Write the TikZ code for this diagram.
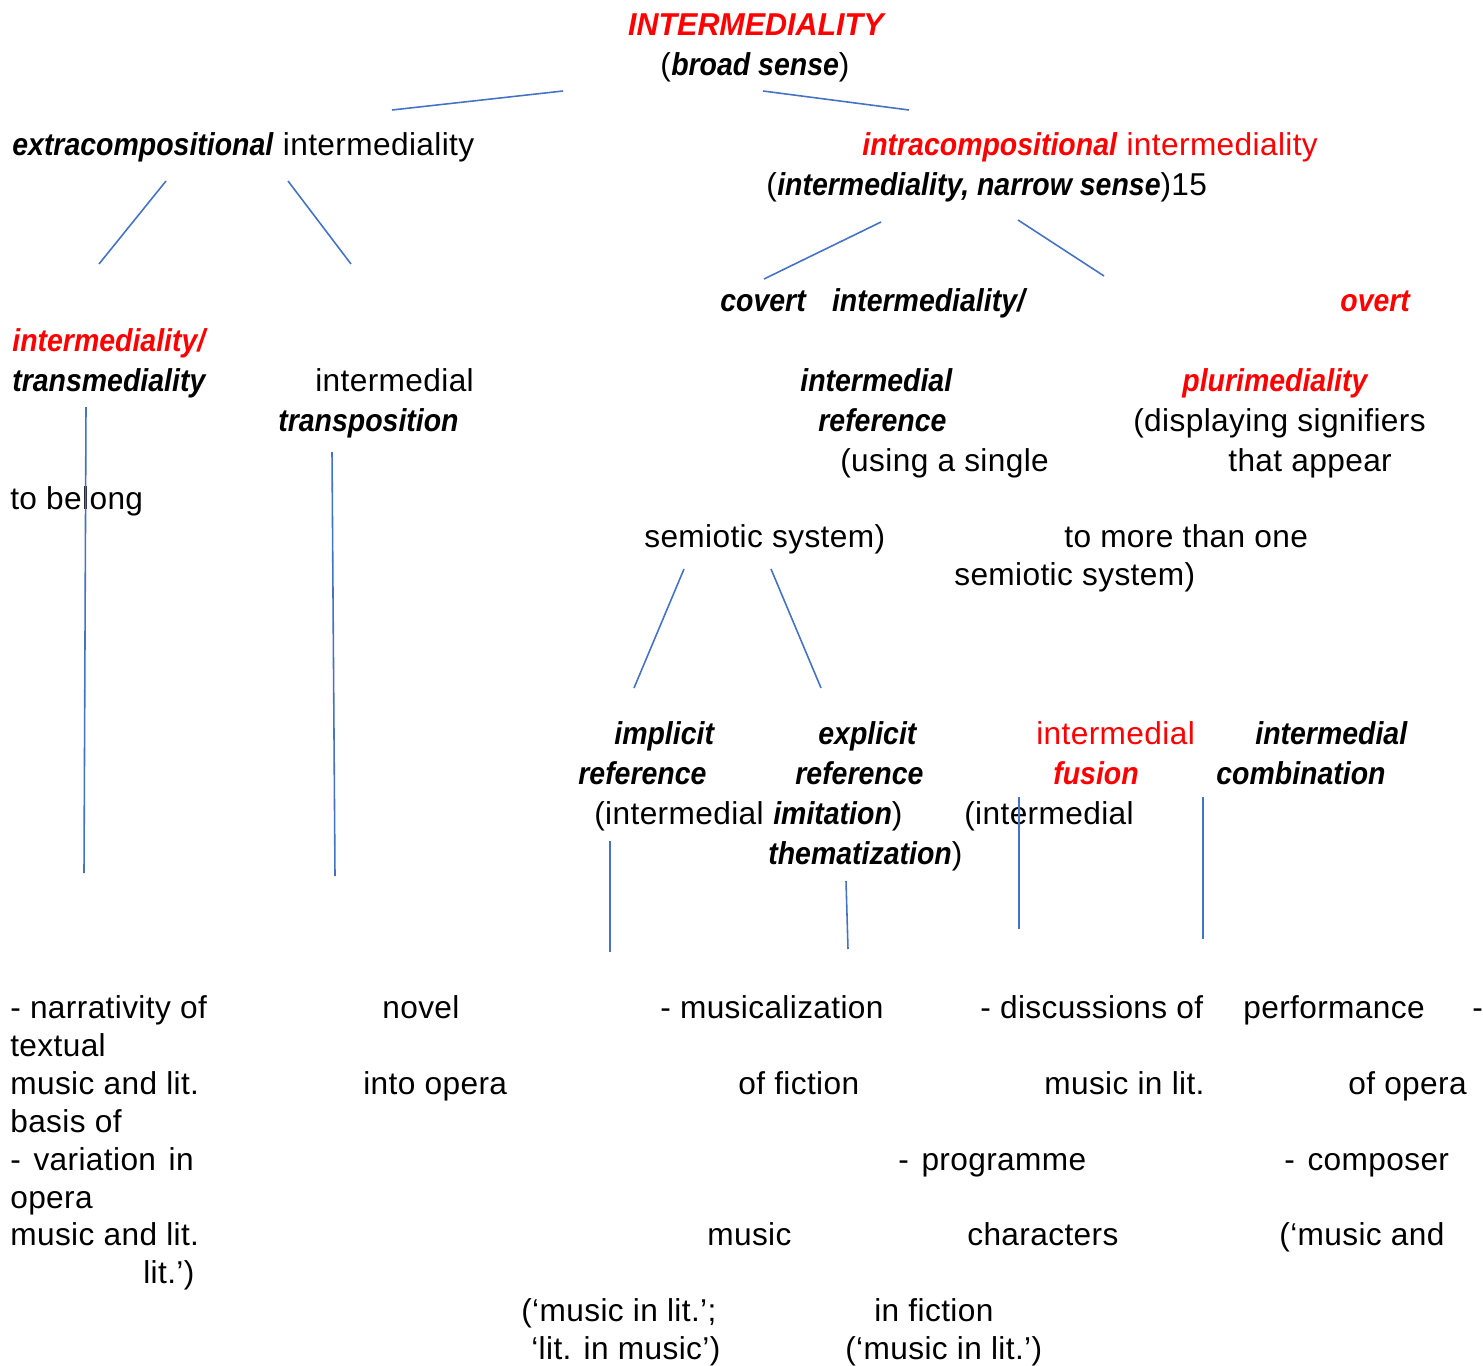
\documentclass[tikz,border=0pt]{standalone}
\usepackage{fontspec}
\setmainfont{Liberation Sans}[UprightFeatures = {LetterSpace = 1.2},
  BoldItalicFeatures = {FakeStretch = 0.9}]
\definecolor{lineblue}{RGB}{68,114,196}
\definecolor{hotred}{RGB}{255,0,0}
\newcommand{\embi}[1]{\textbf{\textit{#1}}}

\begin{document}
\begin{tikzpicture}[x = .02cm, y = -.02cm,
    lbl/.style = {anchor = base west, inner sep = 0pt},
    rd/.style = {lbl, text = hotred},
    lnk/.style = {lineblue, line width = .9pt},
    font = \fontsize{18}{22}\selectfont]
    \useasboundingbox (0,0) rectangle (1483,1365);
    % top of the tree
    \node [anchor = base, inner sep = 0pt, text = hotred, xscale = 1.07, transform shape] (top) at (757,36) {\embi{INTERMEDIALITY}};
    \node [lbl] (broad) at (660,76) {(\embi{broad sense})};
    \node [lbl] (extra) at (12,156) {\embi{extracompositional} intermediality};
    \node [rd] (intra) at (862,156) {\embi{intracompositional} intermediality};
    \node [lbl] (narrow) at (766,195) {(\embi{intermediality, narrow sense})15};
    % second level
    \node [lbl] (covert) at (720,311) {\embi{covert}\hspace{.8em}\embi{intermediality/}};
    \node [rd] (overt) at (1340,311) {\embi{overt}};
    \node [rd] (transa) at (12,351) {\embi{intermediality/}};
    \node [lbl] (transb) at (12,391) {\embi{transmediality}};
    \node [lbl] (transpa) at (315,391) {intermedial};
    \node [lbl] (transpb) at (278,431) {\embi{transposition}};
    \node [lbl] (refa) at (800,391) {\embi{intermedial}};
    \node [lbl] (refb) at (818,431) {\embi{reference}};
    \node [lbl] (refc) at (840,471) {(using a single};
    \node [rd] (plura) at (1182,391) {\embi{plurimediality}};
    \node [lbl] (plurb) at (1133,431) {(displaying signifiers};
    \node [lbl] (plurc) at (1228,471) {that appear};
    \node [lbl] (belong) at (10,509) {to belong};
    \node [lbl] (refd) at (644,547) {semiotic system)};
    \node [lbl] (plurd) at (1064,547) {to more than one};
    \node [lbl] (plure) at (954,585) {semiotic system)};
    % third level
    \node [lbl] (impa) at (614,744) {\embi{implicit}};
    \node [lbl] (impb) at (578,784) {\embi{reference}};
    \node [lbl] (impc) at (594,824) {(intermedial \embi{imitation})};
    \node [lbl] (expa) at (818,744) {\embi{explicit}};
    \node [lbl] (expb) at (795,784) {\embi{reference}};
    \node [lbl] (expc) at (964,824) {(intermedial};
    \node [lbl] (expd) at (768,864) {\embi{thematization})};
    \node [rd] (fusa) at (1036,744) {intermedial};
    \node [rd] (fusb) at (1053,784) {\embi{fusion}};
    \node [lbl] (comba) at (1255,744) {\embi{intermedial}};
    \node [lbl] (combb) at (1216,784) {\embi{combination}};
    % examples
    \node [lbl] (ex1a) at (10,1018) {- narrativity of};
    \node [lbl] (ex1b) at (10,1056) {textual};
    \node [lbl] (ex1c) at (10,1094) {music and lit.};
    \node [lbl] (ex1d) at (10,1132) {basis of};
    \node [lbl] (ex1e) at (10,1170) {-\hspace{.4em}variation\hspace{.4em}in};
    \node [lbl] (ex1f) at (10,1208) {opera};
    \node [lbl] (ex1g) at (10,1245) {music and lit.};
    \node [lbl] (ex1h) at (143,1283) {lit.’)};
    \node [lbl] (ex2a) at (382,1018) {novel};
    \node [lbl] (ex2b) at (363,1094) {into opera};
    \node [lbl] (ex3a) at (660,1018) {- musicalization};
    \node [lbl] (ex3b) at (738,1094) {of fiction};
    \node [lbl] (ex3c) at (707,1245) {music};
    \node [lbl] (ex3d) at (521,1321) {(‘music in lit.’;};
    \node [lbl] (ex3e) at (531,1359) {‘lit. in music’)};
    \node [lbl] (ex4a) at (980,1018) {- discussions of};
    \node [lbl] (ex4b) at (1044,1094) {music in lit.};
    \node [lbl] (ex4c) at (898,1170) {-\hspace{.4em}programme};
    \node [lbl] (ex4d) at (967,1245) {characters};
    \node [lbl] (ex4e) at (874,1321) {in fiction};
    \node [lbl] (ex4f) at (845,1359) {(‘music in lit.’)};
    \node [lbl] (ex5a) at (1243,1018) {performance};
    \node [lbl] (ex5b) at (1472,1018) {-};
    \node [lbl] (ex5c) at (1348,1094) {of opera};
    \node [lbl] (ex5d) at (1284,1170) {-\hspace{.4em}composer};
    \node [lbl] (ex5e) at (1279,1245) {(‘music and};
    % connector ends
    \coordinate (a1) at (563,91);  \coordinate (a2) at (392,110);
    \coordinate (b1) at (763,91);  \coordinate (b2) at (909,110);
    \coordinate (c1) at (166,181); \coordinate (c2) at (99,264);
    \coordinate (d1) at (288,181); \coordinate (d2) at (351,264);
    \coordinate (e1) at (881,222); \coordinate (e2) at (764,279);
    \coordinate (f1) at (1018,220); \coordinate (f2) at (1104,276);
    \coordinate (g1) at (86,407);  \coordinate (g2) at (84,873);
    \coordinate (h1) at (332,452); \coordinate (h2) at (335,876);
    \coordinate (i1) at (684,569); \coordinate (i2) at (634,688);
    \coordinate (j1) at (771,569); \coordinate (j2) at (821,688);
    \coordinate (k1) at (610,841); \coordinate (k2) at (610,952);
    \coordinate (l1) at (846,881); \coordinate (l2) at (848,949);
    \coordinate (m1) at (1019,797); \coordinate (m2) at (1019,929);
    \coordinate (n1) at (1203,797); \coordinate (n2) at (1203,939);
    \foreach \p in {a,b,c,d,e,f,g,h,i,j,k,l,m,n} {
      \draw [lnk] (\p1) -- (\p2);
    }
  \end{tikzpicture}
\end{document}
